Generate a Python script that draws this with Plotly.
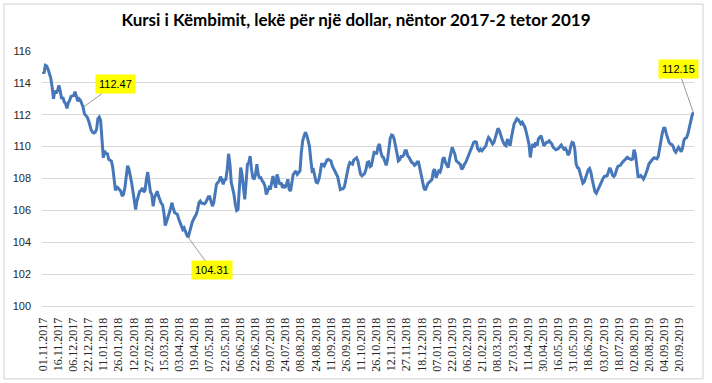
import numpy as np
import plotly.graph_objects as go

title_text = "Kursi i Këmbimit, lekë për një dollar, nëntor 2017-2 tetor 2019"

date_labels = [
    "01.11.2017", "16.11.2017", "06.12.2017", "22.12.2017", "11.01.2018", "26.01.2018",
    "12.02.2018", "27.02.2018", "15.03.2018", "03.04.2018", "19.04.2018", "07.05.2018",
    "22.05.2018", "06.06.2018", "22.06.2018", "09.07.2018", "24.07.2018", "08.08.2018",
    "24.08.2018", "11.09.2018", "26.09.2018", "11.10.2018", "26.10.2018", "12.11.2018",
    "27.11.2018", "18.12.2018", "07.01.2019", "22.01.2019", "06.02.2019", "21.02.2019",
    "08.03.2019", "27.03.2019", "11.04.2019", "30.04.2019", "16.05.2019", "31.05.2019",
    "18.06.2019", "03.07.2019", "18.07.2019", "02.08.2019", "20.08.2019", "04.09.2019",
    "20.09.2019",
]
label_every = 11  # one date label every 11 trading days

# ALL/USD rate (approx. one value per trading day)
rate_nov17_mar18 = [
    114.7, 114.6, 115.1, 115.05, 114.85, 114.55, 114.3, 113.75, 113.0, 113.5,
    113.35, 113.5, 113.85, 113.5, 113.0, 113.1, 112.8, 112.7, 112.4, 112.75,
    112.9, 113.15, 113.2, 113.2, 113.45, 113.15, 112.85, 113.0, 112.9, 112.7,
    112.47, 112.05, 111.95, 111.85, 111.65, 111.3, 111.05, 110.9, 110.85, 110.9,
    111.1, 111.75, 111.85, 111.65, 110.15, 109.3, 109.75, 109.5, 109.6, 109.2,
    109.15, 109.1, 108.7, 108.05, 107.25, 107.5, 107.4, 107.3, 107.2, 106.9,
    107.0, 107.4, 108.05, 108.8, 108.6, 108.25, 107.75, 107.2, 106.6, 106.05,
    106.6, 107.0, 107.2, 107.25, 107.4, 107.15, 107.25, 107.95, 108.4, 107.75,
    107.15, 107.0, 106.25, 106.8, 107.0, 107.2, 106.9, 106.6, 106.45, 106.35,
    105.85, 105.05, 105.3, 105.5, 105.85, 106.15,
]
rate_mar18_aug18 = [
    106.48, 106.1, 105.85, 105.8, 105.74, 105.45, 105.2, 105.0, 104.8, 104.9,
    104.65, 104.45, 104.31, 104.65, 105.0, 105.25, 105.45, 105.6, 105.75, 106.05,
    106.48, 106.58, 106.45, 106.45, 106.4, 106.48, 106.69, 106.85, 106.85, 106.58,
    106.27, 106.48, 107.0, 107.63, 107.74, 107.84, 108.11, 107.95, 107.63, 107.9,
    107.95, 108.57, 109.55, 108.9, 107.74, 107.42, 107.0, 106.37, 106.0, 106.06,
    107.11, 108.68, 108.26, 107.21, 106.69, 107.74, 108.89, 108.99, 109.41, 108.57,
    108.05, 107.95, 108.26, 108.89, 108.26, 108.05, 108.05, 107.84, 107.74, 107.53,
    107.0, 107.21, 107.42, 107.32, 107.74, 108.16, 107.74, 107.42, 108.26, 107.84,
    107.63, 107.74, 107.42, 107.53, 107.42, 107.63, 107.95, 107.32, 107.21, 107.74,
    108.26, 108.36, 108.47, 108.26, 108.36, 108.47, 109.62,
]
rate_aug18_jan19 = [
    110.37, 110.65, 110.9, 110.73, 110.37, 110.05, 109.2, 108.47, 108.53, 108.2,
    107.77, 107.73, 107.94, 108.36, 108.9, 108.9, 108.79, 108.96, 109.17, 109.2,
    109.17, 109.1, 108.79, 108.62, 108.53, 108.26, 108.11, 107.69, 107.31, 107.35,
    107.35, 107.48, 107.9, 108.41, 108.74, 109.0, 108.96, 108.9, 109.17, 109.23,
    109.3, 109.1, 108.62, 108.26, 108.17, 108.24, 108.32, 108.57, 109.0, 109.04,
    108.74, 108.79, 109.25, 109.63, 109.59, 109.59, 110.01, 110.16, 109.67, 109.38,
    109.32, 109.1, 108.83, 109.17, 110.01, 110.52, 110.73, 110.69, 110.44, 110.1,
    109.59, 109.1, 109.17, 109.38, 109.38, 109.46, 109.74, 109.74, 109.42, 109.32,
    109.17, 109.0, 108.96, 108.83, 108.9, 109.04, 109.04, 108.57, 108.11, 107.84,
    107.41, 107.26, 107.48, 107.69, 107.77, 107.84, 107.94, 108.47,
]
rate_jan19_may19 = [
    108.58, 108.05, 108.26, 108.47, 108.41, 108.68, 109.21, 109.32, 109.0, 108.79,
    108.68, 109.21, 109.63, 109.95, 109.74, 109.53, 109.11, 109.04, 109.0, 108.89,
    108.58, 108.68, 108.89, 109.0, 109.21, 109.42, 109.63, 109.84, 109.95, 110.27,
    110.31, 110.27, 109.84, 109.74, 109.84, 109.74, 109.84, 109.95, 110.05, 110.37,
    110.58, 110.48, 110.27, 110.16, 110.27, 110.58, 110.79, 111.15, 111.01, 110.69,
    110.48, 110.27, 110.1, 110.05, 110.48, 110.27, 110.05, 110.58, 111.11, 111.43,
    111.58, 111.75, 111.7, 111.53, 111.43, 111.53, 111.37, 111.22, 110.9, 110.58,
    110.16, 109.32, 109.95, 110.16, 109.95, 110.27, 110.05, 110.48, 110.58, 110.69,
    110.37, 110.05, 110.16, 110.27, 110.27, 110.37, 110.27, 110.16, 109.95, 109.84,
    109.8, 109.84, 109.89, 110.01, 110.1, 109.95, 109.84,
]
rate_may19_oct19 = [
    109.89, 109.75, 109.47, 109.6, 110.02, 110.27, 110.23, 109.85, 108.91, 108.69,
    108.63, 108.27, 107.92, 107.71, 107.79, 108.06, 108.34, 108.55, 108.63, 108.38,
    107.92, 107.49, 107.16, 107.07, 107.28, 107.47, 107.58, 107.85, 108.0, 108.13,
    108.15, 108.17, 108.42, 108.67, 108.48, 108.21, 108.13, 108.25, 108.55, 108.76,
    108.8, 108.84, 108.97, 109.05, 109.18, 109.26, 109.33, 109.26, 109.22, 109.18,
    109.22, 109.8, 109.54, 108.69, 108.13, 108.13, 108.19, 108.08, 107.96, 108.13,
    108.34, 108.59, 108.91, 109.05, 109.18, 109.24, 109.31, 109.26, 109.24, 109.39,
    109.89, 110.48, 110.86, 111.16, 111.16, 110.8, 110.48, 110.27, 110.17, 110.13,
    110.02, 109.75, 109.64, 109.81, 109.96, 109.85, 109.68, 109.89, 110.38, 110.53,
    110.57, 110.8, 111.22, 111.58, 111.92, 112.15,
]

rate = (rate_nov17_mar18 + rate_mar18_aug18 + rate_aug18_jan19
        + rate_jan19_may19 + rate_may19_oct19)

n_cat = len(date_labels) * label_every
x = np.linspace(0, n_cat - 1, len(rate))
tick_pos = [i * label_every for i in range(len(date_labels))]

# highlighted points: a Dec-2017 level, the minimum and the last value
i_min = int(np.argmin(rate))
highlight = [
    (30, 32, -23),
    (i_min, 24, 33),
    (len(rate) - 1, -15, -43),
]

fig = go.Figure()
fig.add_trace(go.Scatter(
    x=x, y=rate, mode="lines",
    line=dict(color="#4677B8", width=3),
    hoverinfo="y",
))

for idx, ax, ay in highlight:
    fig.add_annotation(
        x=x[idx], y=rate[idx], text=f"{rate[idx]:.2f}",
        showarrow=True, arrowhead=0, arrowwidth=0.8, arrowcolor="#808080",
        ax=ax, ay=ay, standoff=0,
        bgcolor="#FFFF00", borderpad=3,
        font=dict(family="Liberation Sans", size=11, color="#000000"),
    )

fig.add_shape(
    type="rect", xref="paper", yref="paper",
    x0=-0.0583, x1=1.0138, y0=-0.286, y1=1.184,
    line=dict(color="#D0D0D0", width=1), fillcolor="rgba(0,0,0,0)",
    layer="below",
)

fig.update_layout(
    width=712, height=383,
    margin=dict(l=42, r=18, t=51, b=77),
    paper_bgcolor="white", plot_bgcolor="white",
    showlegend=False,
    title=dict(
        text=title_text, x=0.5, xref="container", xanchor="center",
        y=1 - 20 / 383, yref="container", yanchor="middle",
        font=dict(family="Lato", size=17, color="#000000", weight="bold"),
    ),
    xaxis=dict(
        range=[-0.5, n_cat - 0.5], tickmode="array",
        tickvals=tick_pos, ticktext=date_labels, tickangle=-90,
        showgrid=False, zeroline=False, ticks="",
        showline=True, linecolor="#D9D9D9", linewidth=1,
        tickfont=dict(family="Liberation Serif", size=12, color="#262626"),
        ticklabelstandoff=6,
    ),
    yaxis=dict(
        range=[100, 116], dtick=2, tick0=100,
        showgrid=True, gridcolor="#D9D9D9", gridwidth=1,
        zeroline=False, ticks="", showline=False,
        tickfont=dict(family="Liberation Sans", size=11, color="#262626"),
        ticklabelstandoff=10,
    ),
)

fig.write_html("out.html", config={"displayModeBar": False},
               post_script="document.body.style.margin='0';")
